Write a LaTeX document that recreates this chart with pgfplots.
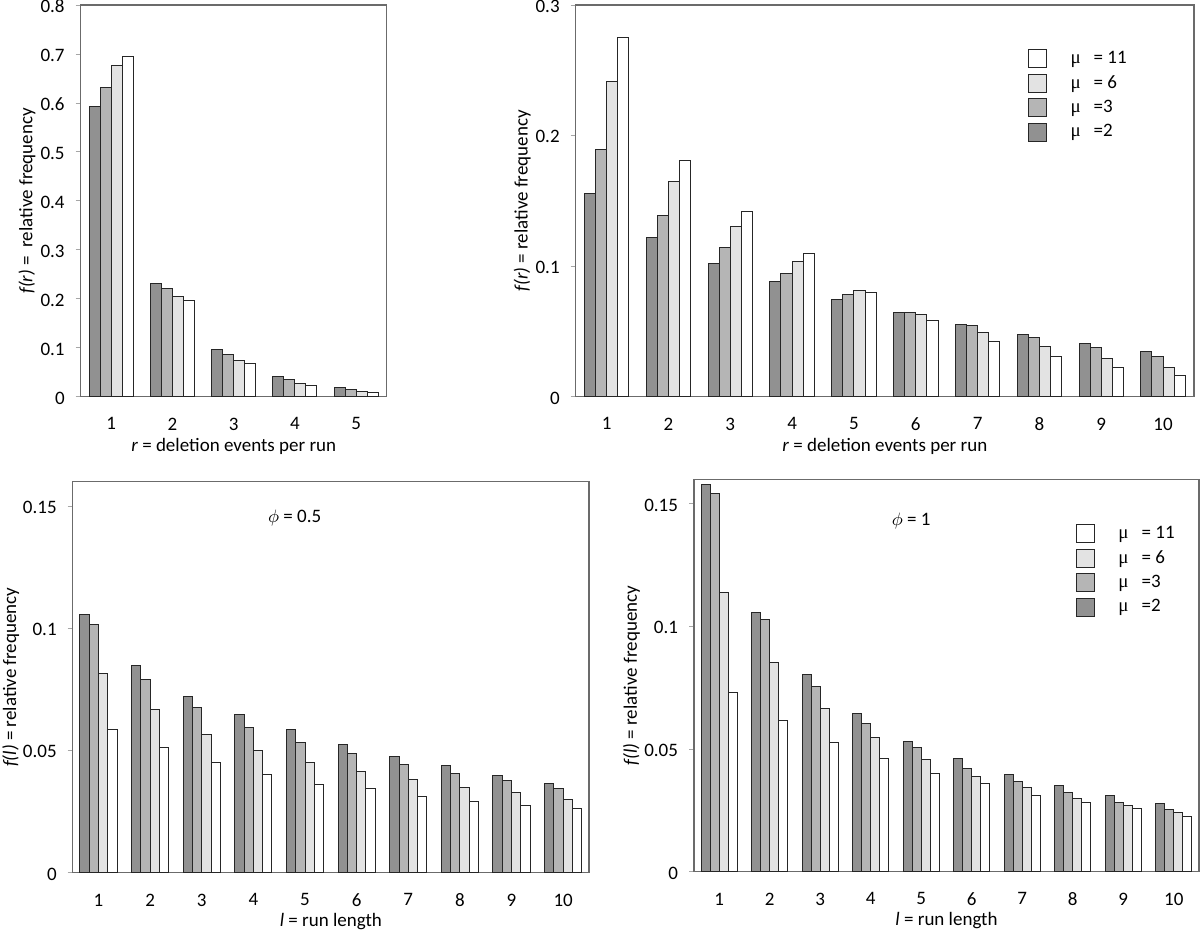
\documentclass[border=0pt]{standalone}
\usepackage{fontspec}
\setmainfont{Carlito}
\newfontfamily\mufont{Liberation Serif}
\usepackage{pgfplots}
\pgfplotsset{compat=1.18}
\newcommand{\fs}{\fontsize{9.5pt}{11pt}\selectfont}
\definecolor{c2}{gray}{0.57}
\definecolor{c3}{gray}{0.71}
\definecolor{c6}{gray}{0.89}
\definecolor{c11}{gray}{1.0}
\definecolor{barline}{gray}{0.15}
\definecolor{frame}{gray}{0.42}

\pgfplotsset{
  panel/.style={
    scale only axis,
    axis line style={frame, line width=0.6pt},
    ymin=0,
    xtick style={draw=none},
    ytick style={draw=black!35, line width=0.4pt},
    tick align=outside,
    ytick pos=left,
    xtick pos=bottom,
    major tick length=2.5pt,
    tick label style={font=\fs},
    label style={font=\fs},
    xticklabel style={anchor=north, yshift=-4.5pt},
    yticklabel style={anchor=east, xshift=-2pt, yshift=-0.6pt},
    legend cell align=left,
    reverse legend,
    legend style={draw=none, fill=none, font=\fs, inner sep=0pt, outer sep=0pt,
                  row sep=2.5pt, anchor=north west, nodes={inner sep=1pt}},
  },
  sq/.style={legend image code/.code={\draw[fill=#1, draw=barline, line width=0.5pt] (0pt,-4.5pt) rectangle (9pt,4.5pt); \path[draw=none, fill=none] (9pt,0pt) -- (20pt,0pt);}},
  s2/.style={ybar, bar width=0.18, bar shift=-0.27, fill=c2, draw=barline, line width=0.5pt, sq=c2},
  s3/.style={ybar, bar width=0.18, bar shift=-0.09, fill=c3, draw=barline, line width=0.5pt, sq=c3},
  s6/.style={ybar, bar width=0.18, bar shift=0.09, fill=c6, draw=barline, line width=0.5pt, sq=c6},
  s11/.style={ybar, bar width=0.18, bar shift=0.27, fill=c11, draw=barline, line width=0.5pt, sq=c11},
}

\pgfplotstableread{
x  m2     m3     m6     m11
1  0.5936 0.6317 0.6760 0.6957
2  0.2315 0.2206 0.2042 0.1974
3  0.0967 0.0858 0.0742 0.0680
4  0.0422 0.0354 0.0272 0.0238
5  0.0184 0.0143 0.0109 0.0088
}\tabA

\pgfplotstableread{
x  m2     m3     m6     m11
1  0.1557 0.1897 0.2415 0.2750
2  0.1223 0.1386 0.1647 0.1808
3  0.1021 0.1139 0.1305 0.1419
4  0.0881 0.0942 0.1039 0.1093
5  0.0743 0.0784 0.0814 0.0799
6  0.0643 0.0648 0.0628 0.0587
7  0.0551 0.0544 0.0488 0.0424
8  0.0477 0.0452 0.0383 0.0309
9  0.0411 0.0373 0.0291 0.0225
10 0.0350 0.0311 0.0225 0.0164
}\tabB

\pgfplotstableread{
x  m2     m3     m6     m11
1  0.1057 0.1016 0.0815 0.0584
2  0.0846 0.0790 0.0666 0.0511
3  0.0723 0.0676 0.0564 0.0450
4  0.0647 0.0595 0.0499 0.0402
5  0.0587 0.0531 0.0450 0.0361
6  0.0526 0.0488 0.0414 0.0346
7  0.0477 0.0444 0.0381 0.0312
8  0.0439 0.0407 0.0349 0.0290
9  0.0399 0.0376 0.0327 0.0277
10 0.0364 0.0346 0.0300 0.0264
}\tabC

\pgfplotstableread{
x  m2     m3     m6     m11
1  0.1577 0.1542 0.1139 0.0730
2  0.1058 0.1030 0.0853 0.0617
3  0.0803 0.0754 0.0664 0.0527
4  0.0645 0.0605 0.0546 0.0460
5  0.0532 0.0506 0.0459 0.0400
6  0.0461 0.0422 0.0390 0.0358
7  0.0396 0.0367 0.0344 0.0312
8  0.0351 0.0321 0.0298 0.0282
9  0.0309 0.0284 0.0271 0.0256
10 0.0278 0.0253 0.0240 0.0227
}\tabD

\begin{document}
\begin{tikzpicture}
\useasboundingbox (0pt,0pt) rectangle (600pt,467pt);

% Panel A
\begin{axis}[panel,
  at={(40.35pt,268.65pt)}, anchor=south west,
  width=153pt, height=195.85pt,
  xmin=0.5, xmax=5.5, ymax=0.8,
  xtick={1,2,3,4,5}, xticklabels={1,2,3,4,5},
  ytick={0,0.1,0.2,0.3,0.4,0.5,0.6,0.7,0.8},
  yticklabels={0,0.1,0.2,0.3,0.4,0.5,0.6,0.7,0.8},
  xlabel={\textit{r} = deletion events per run},
  ylabel={\textit{f(r)} =\ \ relative frequency},
  xlabel style={at={(axis description cs:0.5,0)}, anchor=base, yshift=-27.5pt},
  ylabel style={at={(axis description cs:-0.158,0.5)}, anchor=base},
]
\addplot[s2] table[x=x,y=m2] {\tabA};
\addplot[s3] table[x=x,y=m3] {\tabA};
\addplot[s6] table[x=x,y=m6] {\tabA};
\addplot[s11] table[x=x,y=m11] {\tabA};
\end{axis}

% Panel B
\begin{axis}[panel,
  at={(287.85pt,268.65pt)}, anchor=south west,
  width=309.15pt, height=195.85pt,
  xmin=0.5, xmax=10.5, ymax=0.3,
  xtick={1,...,10}, xticklabels={1,2,3,4,5,6,7,8,9,10},
  ytick={0,0.1,0.2,0.3},
  yticklabels={0,0.1,0.2,0.3},
  xlabel={\textit{r} = deletion events per run},
  ylabel={\textit{f(r)} = relative frequency},
  xlabel style={at={(axis description cs:0.5,0)}, anchor=base, yshift=-27.5pt},
  ylabel style={at={(axis description cs:-0.0776,0.5)}, anchor=base},
  legend style={at={(axis description cs:0.7315,0.887)}},
]
\addplot[s2] table[x=x,y=m2] {\tabB};
\addplot[s3] table[x=x,y=m3] {\tabB};
\addplot[s6] table[x=x,y=m6] {\tabB};
\addplot[s11] table[x=x,y=m11] {\tabB};
\legend{{\mufont μ}\hspace{6.5pt}=2, {\mufont μ}\hspace{6.5pt}=3, {\mufont μ}\hspace{6.5pt}= 6, {\mufont μ}\hspace{6.5pt}= 11}
\end{axis}

% Panel C
\begin{axis}[panel,
  at={(36.35pt,30.65pt)}, anchor=south west,
  width=258.15pt, height=195.5pt,
  xmin=0.5, xmax=10.5, ymax=0.16,
  xtick={1,...,10}, xticklabels={1,2,3,4,5,6,7,8,9,10},
  ytick={0,0.05,0.1,0.15},
  yticklabels={0,0.05,0.1,0.15},
  xlabel={\textit{l} = run length},
  ylabel={\textit{f(l)} = relative frequency},
  xlabel style={at={(axis description cs:0.5,0)}, anchor=base, yshift=-27pt},
  ylabel style={at={(axis description cs:-0.1096,0.5)}, anchor=base},
]
\addplot[s2] table[x=x,y=m2] {\tabC};
\addplot[s3] table[x=x,y=m3] {\tabC};
\addplot[s6] table[x=x,y=m6] {\tabC};
\addplot[s11] table[x=x,y=m11] {\tabC};
\node[font=\fs] at (axis cs:4.8,0.145) {$\phi$ = 0.5};
\end{axis}

% Panel D
\begin{axis}[panel,
  at={(347pt,31.15pt)}, anchor=south west,
  width=252.5pt, height=196.2pt,
  xmin=0.5, xmax=10.5, ymax=0.16,
  xtick={1,...,10}, xticklabels={1,2,3,4,5,6,7,8,9,10},
  ytick={0,0.05,0.1,0.15},
  yticklabels={0,0.05,0.1,0.15},
  xlabel={\textit{l} = run length},
  ylabel={\textit{f(l)} = relative frequency},
  xlabel style={at={(axis description cs:0.5,0)}, anchor=base, yshift=-27pt},
  ylabel style={at={(axis description cs:-0.1129,0.5)}, anchor=base},
  legend style={at={(axis description cs:0.7564,0.886)}},
]
\addplot[s2] table[x=x,y=m2] {\tabD};
\addplot[s3] table[x=x,y=m3] {\tabD};
\addplot[s6] table[x=x,y=m6] {\tabD};
\addplot[s11] table[x=x,y=m11] {\tabD};
\node[font=\fs] at (axis cs:4.8,0.143) {$\phi$ = 1};
\legend{{\mufont μ}\hspace{6.5pt}=2, {\mufont μ}\hspace{6.5pt}=3, {\mufont μ}\hspace{6.5pt}= 6, {\mufont μ}\hspace{6.5pt}= 11}
\end{axis}
\end{tikzpicture}
\end{document}
